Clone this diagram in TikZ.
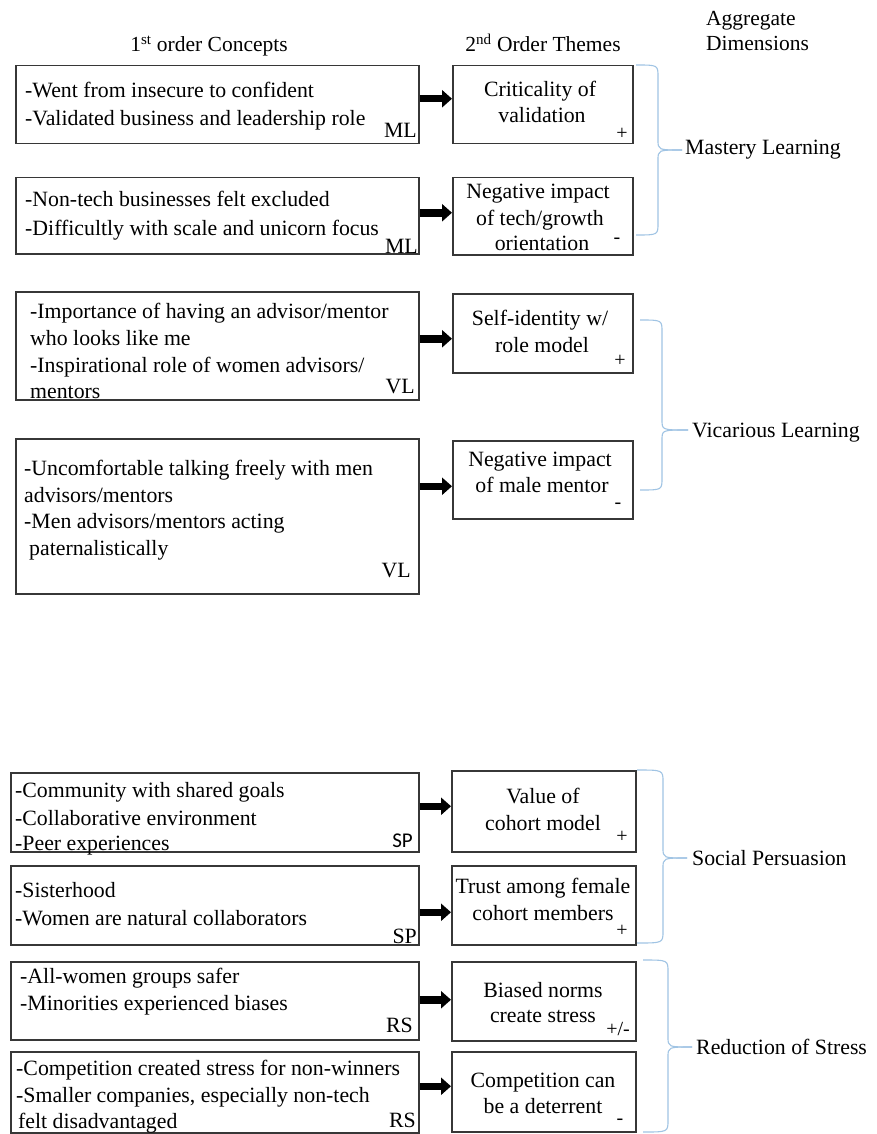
\documentclass[tikz,border=0pt]{standalone}
\usepackage{fontspec}
\setmainfont{Liberation Serif}
\newfontfamily\calib{Carlito}
\usetikzlibrary{arrows.meta}
\definecolor{boxline}{RGB}{55,55,55}
\definecolor{bracecol}{RGB}{160,196,228}
\tikzset{
  cbox/.style={draw=boxline, line width=1.5pt, fill=none, inner sep=0pt, anchor=north west},
  tx/.style={inner sep=0pt, font=\fontsize{21.8}{26}\selectfont},
  tl/.style={tx, anchor=base west},
  tc/.style={tx, anchor=base},
  tag/.style={tx, anchor=base east},
  sgn/.style={inner sep=0pt, anchor=center, font=\fontsize{20}{22}\selectfont},
  hdr/.style={inner sep=0pt, font=\fontsize{21.5}{25}\selectfont},
  agg/.style={tx, anchor=base west},
  arr/.style={line width=7.5pt, -{Triangle[length=10pt,width=17pt]}},
  brc/.style={draw=bracecol, line width=1.1pt}
}
\newcommand{\bracepath}[6]{% x0 top x1 mid tip bottom
  \draw[brc] (#1,#2) .. controls (#3,#2) .. (#3,#2+12) -- (#3,#4-10) .. controls (#3,#4) .. (#5,#4);
  \draw[brc] (#5,#4) .. controls (#3,#4) .. (#3,#4+10) -- (#3,#6-12) .. controls (#3,#6) .. (#1,#6);
}
\begin{document}
\begin{tikzpicture}[x=1pt,y=-1pt]
\useasboundingbox (0,0) rectangle (877,1134);
\fill[white] (0,0) rectangle (877,1134);

% headers
\node[hdr, anchor=base] (h1) at (209,52) {1\textsuperscript{st} order Concepts};
\node[hdr, anchor=base] (h2) at (543,52) {2\textsuperscript{nd} Order Themes};
\node[hdr, anchor=base west] (h3a) at (706,26) {Aggregate};
\node[hdr, anchor=base west] (h3b) at (706,51) {Dimensions};

% left boxes
\node[cbox, minimum width=403pt, minimum height=78pt] (L1) at (15,65) {};
\node[cbox, minimum width=403pt, minimum height=76pt] (L2) at (15,177) {};
\node[cbox, minimum width=403pt, minimum height=108pt] (L3) at (15,291) {};
\node[cbox, minimum width=403pt, minimum height=155pt] (L4) at (15,438) {};
\node[cbox, minimum width=408pt, minimum height=79pt] (L5) at (10,772) {};
\node[cbox, minimum width=408pt, minimum height=79pt] (L6) at (10,865) {};
\node[cbox, minimum width=408pt, minimum height=78pt] (L7) at (10,961) {};
\node[cbox, minimum width=408pt, minimum height=81pt] (L8) at (10,1051) {};

% right boxes
\node[cbox, minimum width=180pt, minimum height=78pt] (R1) at (452,65) {};
\node[cbox, minimum width=180pt, minimum height=77pt] (R2) at (452,177) {};
\node[cbox, minimum width=180pt, minimum height=79pt] (R3) at (452,293) {};
\node[cbox, minimum width=180pt, minimum height=78pt] (R4) at (452,440) {};
\node[cbox, minimum width=184pt, minimum height=81pt] (R5) at (451,770) {};
\node[cbox, minimum width=184pt, minimum height=79pt] (R6) at (451,865) {};
\node[cbox, minimum width=184pt, minimum height=79pt] (R7) at (451,961) {};
\node[cbox, minimum width=184pt, minimum height=80pt] (R8) at (451,1051) {};

% left texts
\node[tl] (t1a) at (25,98) {-Went from insecure to confident};
\node[tl] (t1b) at (25,126) {-Validated business and leadership role};
\node[tag] (g1) at (417,138) {ML};
\node[tl] (t2a) at (25,207) {-Non-tech businesses felt excluded};
\node[tl] (t2b) at (25,235) {-Difficultly with scale and unicorn focus};
\node[tag] (g2) at (418,253) {ML};
\node[tl] (t3a) at (30,318) {-Importance of having an advisor/mentor};
\node[tl] (t3b) at (30,345) {who looks like me};
\node[tl] (t3c) at (30,372) {-Inspirational role of women advisors/};
\node[tl] (t3d) at (30,398) {mentors};
\node[tag] (g3) at (415,393) {VL};
\node[tl] (t4a) at (24,475) {-Uncomfortable talking freely with men};
\node[tl] (t4b) at (24,502) {advisors/mentors};
\node[tl] (t4c) at (24,528) {-Men advisors/mentors acting};
\node[tl] (t4d) at (29,555) {paternalistically};
\node[tag] (g4) at (411,577) {VL};
\node[tl] (t5a) at (15,797) {-Community with shared goals};
\node[tl] (t5b) at (15,825) {-Collaborative environment};
\node[tl] (t5c) at (15,850) {-Peer experiences};
\node[tag, font=\calib\fontsize{21}{25}\selectfont] (g5) at (413,847) {SP};
\node[tl] (t6a) at (15,897) {-Sisterhood};
\node[tl] (t6b) at (15,925) {-Women are natural collaborators};
\node[tag] (g6) at (417,943) {SP};
\node[tl] (t7a) at (20,983) {-All-women groups safer};
\node[tl] (t7b) at (20,1010) {-Minorities experienced biases};
\node[tag] (g7) at (413,1032) {RS};
\node[tl] (t8a) at (16,1075) {-Competition created stress for non-winners};
\node[tl] (t8b) at (16,1102) {-Smaller companies, especially non-tech};
\node[tl] (t8c) at (18,1128) {felt disadvantaged};
\node[tag] (g8) at (416,1127) {RS};

% right texts
\node[tc] (r1a) at (540,97) {Criticality of};
\node[tc] (r1b) at (542,123) {validation};
\node[sgn] (s1) at (622,134) {+};
\node[tc] (r2a) at (538,198) {Negative impact};
\node[tc] (r2b) at (540,225) {of tech/growth};
\node[tc] (r2c) at (542,250) {orientation};
\node[sgn] (s2) at (617,241) {-};
\node[tc] (r3a) at (540,325) {Self-identity w/};
\node[tc] (r3b) at (542,352) {role model};
\node[sgn] (s3) at (620,361) {+};
\node[tc] (r4a) at (540,466) {Negative impact};
\node[tc] (r4b) at (542,492) {of male mentor};
\node[sgn] (s4) at (618,506) {-};
\node[tc] (r5a) at (543,803) {Value of};
\node[tc] (r5b) at (543,830) {cohort model};
\node[sgn] (s5) at (622,837) {+};
\node[tc] (r6a) at (543,893) {Trust among female};
\node[tc] (r6b) at (543,920) {cohort members};
\node[sgn] (s6) at (622,931) {+};
\node[tc] (r7a) at (543,997) {Biased norms};
\node[tc] (r7b) at (543,1022) {create stress};
\node[sgn] (s7) at (618,1029) {+/-};
\node[tc] (r8a) at (543,1087) {Competition can};
\node[tc] (r8b) at (543,1113) {be a deterrent};
\node[sgn] (s8) at (620,1122) {-};

% arrows
\draw[arr] ([yshift=6pt]L1.east) -- ([yshift=6pt]L1.east -| R1.west);
\draw[arr] ([yshift=3pt]L2.east) -- ([yshift=3pt]L2.east -| R2.west);
\draw[arr] ([yshift=7pt]L3.east) -- ([yshift=7pt]L3.east -| R3.west);
\draw[arr] ([yshift=30pt]L4.east) -- ([yshift=30pt]L4.east -| R4.west);
\draw[arr] ([yshift=6pt]L5.east) -- ([yshift=6pt]L5.east -| R5.west);
\draw[arr] ([yshift=-7pt]L6.east) -- ([yshift=-7pt]L6.east -| R6.west);
\draw[arr] ([yshift=1pt]L7.east) -- ([yshift=1pt]L7.east -| R7.west);
\draw[arr] ([yshift=6pt]L8.east) -- ([yshift=6pt]L8.east -| R8.west);

% braces
\bracepath{636}{65}{658}{150}{682}{235}
\bracepath{640}{320}{662}{430}{688}{490}
\bracepath{637}{770}{663}{858}{687}{943}
\bracepath{643}{960}{668}{1047}{692}{1132}

% aggregate labels
\node[agg] (a1) at (685,155) {Mastery Learning};
\node[agg] (a2) at (692,437) {Vicarious Learning};
\node[agg] (a3) at (692,865) {Social Persuasion};
\node[agg] (a4) at (696,1054) {Reduction of Stress};
\end{tikzpicture}
\end{document}
